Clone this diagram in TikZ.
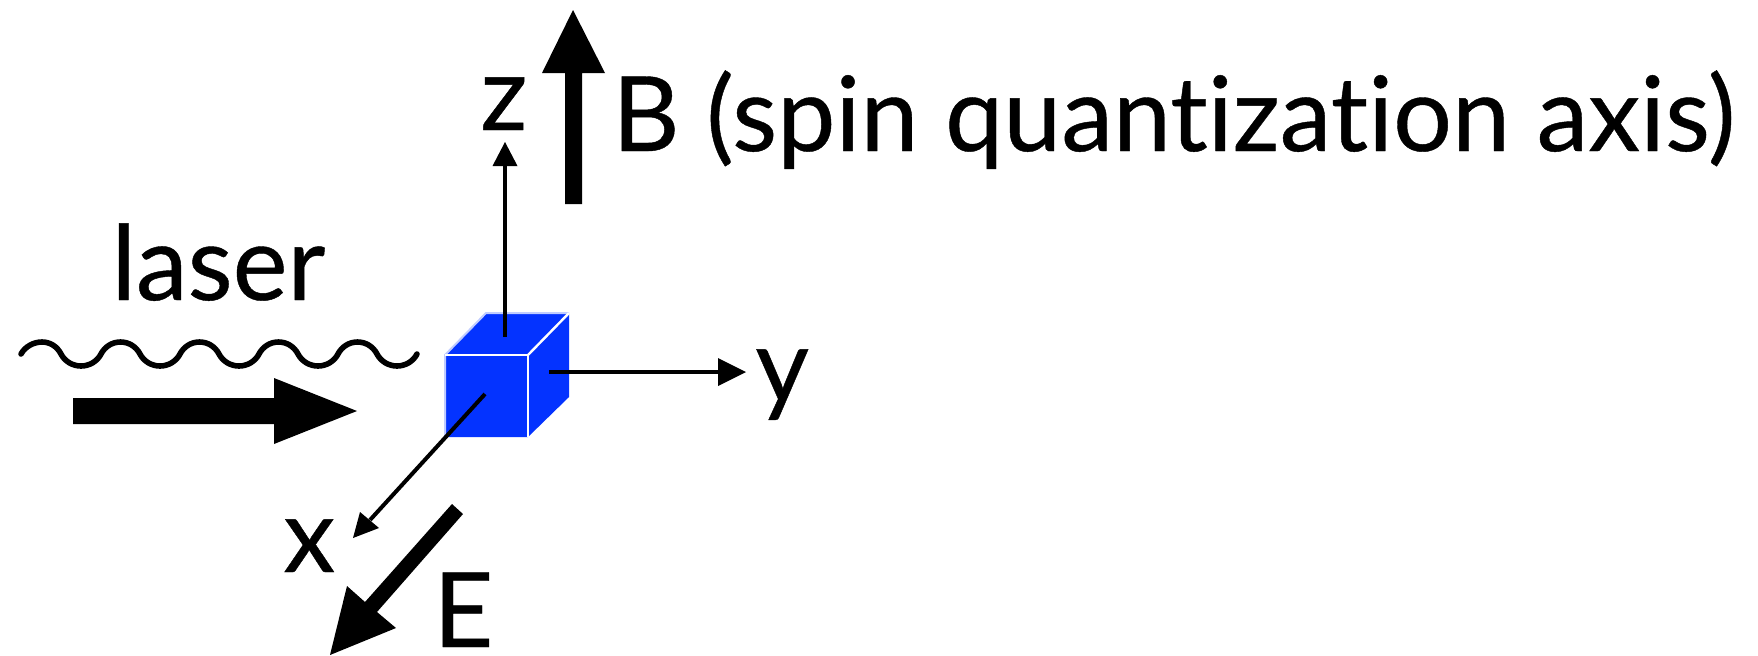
\documentclass[tikz,border=0pt]{standalone}
\usepackage{fontspec}
\setmainfont[Ligatures=NoCommon,FakeBold=0.4]{Lato}
\definecolor{cubeblue}{HTML}{0433FF}
\tikzset{
  lbl/.style={inner sep=0pt,anchor=base west,text depth=0pt,font=\fontsize{52}{60}\selectfont},
  faceedge/.style={draw=white!75!cubeblue,line width=1pt},
  innerface/.style={draw=white,line width=1.2pt},
  axisline/.style={draw=black,line width=2pt},
  wave/.style={draw=black,line width=2.8pt,line cap=round},
}
\begin{document}
\begin{tikzpicture}[x=0.5pt,y=-0.5pt]
\useasboundingbox (0,0) rectangle (1758,655);
% text
\node[lbl] (tb) at (612,151) {B (spin quantization axis)};
\node[lbl] (tz) at (480,130) {z};
\node[lbl] (tlaser) at (111,300) {laser};
\node[lbl] (ty) at (755,402) {y};
\node[lbl] (tx) at (283,572) {x};
\node[lbl] (te) at (433,647) {E};
% cube
\fill[cubeblue] (445,355) -- (486,313) -- (569,313) -- (569,397) -- (528,437) -- (445,437) -- cycle;
\draw[faceedge] (445,437) -- (445,355) -- (486,313) -- (569,313);
\draw[innerface] (445,355) -- (528,355) -- (528,437);
\draw[innerface] (528,355) -- (569,313);
% axes
\coordinate (cz) at (505,337);
\coordinate (zb) at (505,164);
\coordinate (cy) at (549,372);
\coordinate (yb) at (722,372);
\coordinate (cx) at (485,394);
\coordinate (xb) at (370,520);
\draw[axisline] (cz) -- (zb);
\fill (505,142) -- (517.5,166) -- (492.5,166) -- cycle;
\draw[axisline] (cy) -- (yb);
\fill (746,372) -- (718,358) -- (718,386) -- cycle;
\draw[axisline] (cx) -- (xb);
\fill (353,538) -- (360,512) -- (379,528) -- cycle;
% wave
\def\wavedown{.. controls +(3.8,7.4) and +(-8.3,0) .. ++(20,12) .. controls +(8.3,0) and +(-3.8,7.4) .. ++(20,-12)}
\def\waveup{.. controls +(3.8,-7.4) and +(-8.3,0) .. ++(19.5,-12) .. controls +(8.3,0) and +(-3.8,-7.4) .. ++(19.5,12)}
\draw[wave] (21,354) .. controls +(4,-7.4) and +(-8.3,0) .. ++(21,-12) .. controls +(8.3,0) and +(-3.8,-7.4) .. ++(19,12)
 \wavedown \waveup \wavedown \waveup \wavedown \waveup \wavedown \waveup \wavedown;
% thick arrows
\fill (73,398) -- (274,398) -- (274,378) -- (357,411) -- (274,444) -- (274,424) -- (73,424) -- cycle;
\fill (565,204) -- (565,73) -- (542,73) -- (573,10) -- (605,73) -- (582,73) -- (582,204) -- cycle;
\fill (452,504) -- (463,514) -- (377,612) -- (396,628) -- (330,655) -- (347,586) -- (365,602) -- cycle;
\end{tikzpicture}
\end{document}
